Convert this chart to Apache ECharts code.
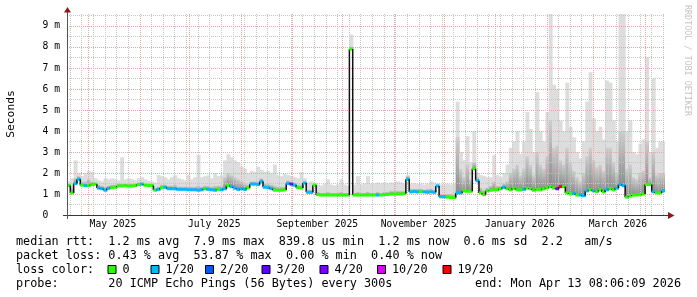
<!DOCTYPE html>
<html><head><meta charset="utf-8">
<script src="https://cdn.jsdelivr.net/npm/echarts@6/dist/echarts.min.js"></script>
<style>html,body{margin:0;padding:0;background:#fff}#c{width:697px;height:297px}</style>
</head><body><div id="c"></div>
<script>
// ---------- DATA ----------
const startTime = Date.UTC(2025, 3, 18, 8, 6, 9);
const endTime = Date.UTC(2026, 3, 13, 8, 6, 9);
const bucketDays = 2;

// median rtt per 2-day bucket (ms)
const medianRtt = [
  1.40,1.05,1.50,1.70,1.42,1.40,1.40,1.45,1.47,1.28,
  1.25,1.18,1.27,1.30,1.32,1.38,1.38,1.40,1.38,1.38,
  1.40,1.45,1.47,1.42,1.40,1.40,1.18,1.22,1.30,1.32,
  1.25,1.25,1.25,1.22,1.22,1.22,1.20,1.20,1.20,1.18,
  1.20,1.25,1.22,1.20,1.18,1.22,1.20,1.25,1.40,1.35,
  1.28,1.22,1.25,1.22,1.30,1.47,1.47,1.45,1.60,1.32,
  1.30,1.25,1.18,1.18,1.18,1.20,1.50,1.47,1.42,1.30,
  1.28,1.52,1.08,1.08,1.42,0.97,0.95,0.95,0.95,0.95,
  0.95,0.95,0.95,0.95,0.95,7.90,0.95,0.95,0.95,0.95,
  0.95,0.95,0.95,0.95,0.95,0.97,0.98,1.00,1.00,1.00,
  1.00,1.02,1.70,1.10,1.12,1.10,1.12,1.10,1.08,1.10,
  1.08,1.38,0.87,0.87,0.85,0.83,0.83,1.05,1.05,1.15,
  1.13,1.13,2.20,1.63,1.05,0.97,1.15,1.18,1.20,1.20,
  1.25,1.32,1.25,1.20,1.28,1.20,1.20,1.22,1.28,1.25,
  1.18,1.22,1.20,1.25,1.30,1.35,1.28,1.25,1.35,1.35,
  1.05,1.00,1.02,0.95,0.95,0.92,1.15,1.20,1.15,1.12,
  1.20,1.10,1.20,1.25,1.20,1.28,1.45,1.40,0.85,0.90,
  0.95,0.95,0.97,1.00,1.45,1.45,1.10,1.05,1.05,1.15
];
// loss class per bucket: 0=0,1=1/20,2=2/20,3=3/20,4=4/20,5=10/20,6=19/20
const lossCode = [
  0,0,1,1,0,1,0,0,0,1,
  1,1,1,0,0,0,0,0,0,0,
  0,0,1,0,0,0,0,1,0,1,
  1,1,1,1,1,1,1,1,1,1,
  1,0,1,1,1,0,1,1,0,1,
  1,1,1,1,0,1,1,1,1,1,
  1,1,0,0,0,0,1,4,1,0,
  0,1,1,1,0,0,0,0,0,0,
  0,0,0,0,0,0,0,0,0,0,
  0,0,0,1,0,0,0,0,0,0,
  0,0,1,1,1,1,0,1,1,1,
  1,1,1,1,0,0,0,1,1,0,
  0,0,0,1,0,0,0,0,0,0,
  0,1,0,0,0,0,0,1,0,0,
  0,0,0,0,0,0,0,4,6,0,
  0,0,1,0,1,1,1,0,1,0,
  0,0,1,0,0,1,1,1,0,0,
  0,0,0,0,0,0,1,0,0,1
];
// top of the denser (inner) smoke per bucket (ms)
const smokeMid = [
  1.50,1.30,1.75,1.85,1.60,1.60,1.70,1.60,1.55,1.45,
  1.40,1.35,1.40,1.45,1.45,1.50,1.50,1.50,1.50,1.50,
  1.50,1.55,1.55,1.50,1.50,1.50,1.30,1.35,1.45,1.45,
  1.40,1.40,1.45,1.35,1.35,1.35,1.35,1.35,1.35,1.40,
  1.35,1.40,1.40,1.35,1.40,1.40,1.40,1.80,2.00,1.90,
  1.80,1.70,1.60,1.50,1.45,1.60,1.60,1.60,1.75,1.50,
  1.50,1.45,1.40,1.35,1.35,1.35,1.65,1.60,1.55,1.45,
  1.45,1.60,1.20,1.20,1.50,1.10,1.05,1.05,1.10,1.05,
  1.05,1.05,1.10,1.05,1.05,8.00,1.05,1.10,1.05,1.05,
  1.10,1.05,1.05,1.10,1.05,1.10,1.10,1.15,1.15,1.15,
  1.15,1.15,1.85,1.25,1.25,1.25,1.25,1.20,1.25,1.25,
  1.20,1.45,1.00,1.00,1.00,1.00,1.00,3.70,2.20,1.80,
  2.40,1.70,2.50,1.80,1.30,1.20,1.30,1.40,1.60,1.40,
  1.40,1.50,1.60,2.00,2.20,2.40,1.90,2.20,2.80,2.40,
  1.90,3.00,2.40,2.20,2.80,4.50,3.20,3.30,2.60,2.40,
  3.20,2.50,2.10,1.80,1.60,2.00,2.80,3.20,2.60,2.30,
  2.40,2.10,3.20,3.20,2.50,2.00,4.00,4.00,2.20,2.40,
  1.80,1.70,2.00,2.10,3.50,1.80,3.00,1.90,2.00,2.00
];
// top of the whole smoke (max ping) per bucket (ms)
const smokeHigh = [
  1.60,1.75,2.60,2.00,1.85,2.00,2.10,2.05,1.75,1.65,
  1.60,1.75,1.70,1.75,1.70,1.65,2.75,1.70,1.75,1.70,
  1.65,1.75,1.80,1.70,1.62,1.60,1.55,1.90,1.85,1.80,
  1.70,1.80,1.90,1.75,1.70,1.65,1.90,1.70,1.80,2.86,
  1.80,1.85,1.90,1.75,2.00,1.85,1.90,2.60,2.90,2.75,
  2.60,2.50,2.30,2.20,2.00,2.10,2.05,2.30,2.15,2.05,
  2.10,2.00,2.40,1.90,1.85,1.95,1.90,1.85,1.80,1.75,
  2.05,1.75,1.55,1.60,1.50,1.45,1.40,1.50,1.70,1.45,
  1.40,1.45,1.70,1.45,1.40,8.60,1.45,1.85,1.45,1.50,
  1.85,1.50,1.50,1.55,1.50,1.55,1.50,1.55,1.50,1.60,
  1.55,1.50,1.90,1.50,1.50,1.48,1.50,1.45,1.50,1.60,
  1.55,1.50,1.45,1.45,1.48,1.45,1.50,5.40,3.00,2.60,
  3.75,2.50,4.00,2.00,1.90,1.85,1.80,1.80,2.85,1.90,
  1.80,2.00,2.40,3.20,3.50,4.00,2.90,3.50,4.90,4.10,
  3.00,5.85,4.00,3.50,4.90,9.60,6.20,6.00,4.50,4.00,
  6.30,4.20,3.70,3.00,2.70,3.50,5.40,6.80,4.60,4.00,
  4.20,3.60,6.40,6.30,4.50,3.50,9.60,9.60,4.00,4.50,
  3.00,2.90,3.40,3.60,7.50,3.00,6.50,3.20,3.50,3.50
];

const yTickValues = [0,1,2,3,4,5,6,7,8,9];
const xLabelDates = [[2025,4,16],[2025,6,16],[2025,8,16],[2025,10,16],[2026,0,16],[2026,2,16]];
const xLabelTexts = ['May 2025','July 2025','September 2025','November 2025','January 2026','March 2026'];

const lossLabels = ['0','1/20','2/20','3/20','4/20','10/20','19/20'];
const lossColors = ['#26ff00','#00b8ff','#0059ff','#5e00ff','#7e00ff','#dd00ff','#ff0000'];

const statsLines = [
  'median rtt:  1.2 ms avg  7.9 ms max  839.8 us min  1.2 ms now  0.6 ms sd  2.2   am/s',
  'packet loss: 0.43 % avg  53.87 % max  0.00 % min  0.40 % now',
  'loss color:',
  'probe:       20 ICMP Echo Pings (56 Bytes) every 300s'
];
const endText = 'end: Mon Apr 13 08:06:09 2026';
const yAxisTitle = 'Seconds';
const watermark = 'RRDTOOL / TOBI OETIKER';

// ---------- LAYOUT ----------
const DAY = 864e5;
const G = {left: 67, top: 14, right: 32, bottom: 82};
const yMax = 9.57;
const mono = 'DejaVu Sans Mono';
const legendBoxX = [107.5, 150.5, 205, 261.5, 319.5, 377, 442.5];

const xLabelTimes = xLabelDates.map(d => Date.UTC(d[0], d[1], d[2]));
const xLabelMap = {};
xLabelTimes.forEach((t, i) => { xLabelMap[t] = xLabelTexts[i]; });

const n = medianRtt.length;
const smokeData = medianRtt.map((m, i) => [
  startTime + i * bucketDays * DAY,
  Math.min(startTime + (i + 1) * bucketDays * DAY, endTime),
  m, smokeMid[i], smokeHigh[i]
]);
const medianData = medianRtt.map((m, i) => [
  startTime + i * bucketDays * DAY,
  Math.min(startTime + (i + 1) * bucketDays * DAY, endTime),
  m, i + 1 < n ? medianRtt[i + 1] : m, lossCode[i]
]);

// grid lines (0 minor vertical, 1 major vertical, 2 minor horizontal, 3 major horizontal)
const gridItems = [];
for (let t = Date.UTC(2025, 3, 20); t < endTime; t += 7 * DAY) gridItems.push([t, 0, 0]);
for (let k = 1; k * 0.5 < yMax; k++) if (k % 2) gridItems.push([startTime, k * 0.5, 2]);
for (let k = 0; k < 12; k++) gridItems.push([Date.UTC(2025, 4 + k, 1), 0, 1]);
for (let k = 1; k <= 9; k++) gridItems.push([startTime, k, 3]);

function renderGrid(params, api) {
  const cs = params.coordSys;
  const kind = api.value(2);
  let shape;
  if (kind === 0 || kind === 1) {
    const x = Math.round(api.coord([api.value(0), 0])[0]) + 0.5;
    shape = {x1: x, y1: cs.y, x2: x, y2: cs.y + cs.height};
  } else {
    const y = Math.round(api.coord([startTime, api.value(1)])[1]) + 0.5;
    shape = {x1: cs.x, y1: y, x2: cs.x + cs.width, y2: y};
  }
  return {type: 'line', shape, silent: true,
    style: {stroke: kind % 2 ? '#f0a4a4' : '#c6c6c6', lineWidth: 1, lineDash: [1, 1]}};
}

function renderSmoke(params, api) {
  const t0 = api.value(0), t1 = api.value(1), m = api.value(2), mid = api.value(3), hi = api.value(4);
  const a = api.coord([t0, m]);
  const b = api.coord([t1, hi]);
  const c = api.coord([t1, mid]);
  const w = b[0] - a[0] + 0.6;
  return {type: 'group', children: [
    {type: 'rect', shape: {x: a[0], y: b[1], width: w, height: a[1] - b[1]}, style: {fill: '#dddddd'}},
    {type: 'rect', shape: {x: a[0], y: c[1], width: w, height: a[1] - c[1]},
      style: {fill: {type: 'linear', x: 0, y: 0, x2: 0, y2: 1,
        colorStops: [{offset: 0, color: '#cdcdcd'}, {offset: 1, color: '#8c8c8c'}]}}}
  ]};
}

function renderMedian(params, api) {
  const t0 = api.value(0), t1 = api.value(1), m = api.value(2), mn = api.value(3), code = api.value(4);
  const a = api.coord([t0, m]);
  const b = api.coord([t1, m]);
  const c = api.coord([t1, mn]);
  const children = [];
  children.push({type: 'rect', shape: {x: a[0], y: a[1] - 1.5, width: b[0] - a[0] + 0.4, height: 3},
    style: {fill: lossColors[code]}});
  if (params.dataIndex < n - 1 && Math.abs(c[1] - b[1]) > 0.5) {
    children.push({type: 'line', shape: {x1: b[0], y1: b[1], x2: b[0], y2: c[1]},
      style: {stroke: '#111', lineWidth: 1.5}});
  }
  return {type: 'group', children};
}

// decorations
const axisColor = '#3a3a3a';
const arrowColor = '#8b1a1a';
const xAxisY = 297 - G.bottom;
const graphics = [
  {type: 'line', shape: {x1: 63, y1: xAxisY + 0.5, x2: 669, y2: xAxisY + 0.5}, style: {stroke: axisColor, lineWidth: 1}, z: 20},
  {type: 'line', shape: {x1: G.left + 0.5, y1: 219, x2: G.left + 0.5, y2: 12}, style: {stroke: '#555', lineWidth: 1}, z: 20},
  {type: 'polygon', shape: {points: [[G.left - 3, 12.5], [G.left + 4, 12.5], [G.left + 0.5, 7]]}, style: {fill: arrowColor}, z: 21},
  {type: 'polygon', shape: {points: [[668, xAxisY - 3], [668, xAxisY + 4], [674.5, xAxisY + 0.5]]}, style: {fill: arrowColor}, z: 21},
  {type: 'text', x: 11, y: 114, rotation: Math.PI / 2,
    style: {text: yAxisTitle, font: '11.3px ' + mono, fill: '#000', align: 'center', verticalAlign: 'middle'}},
  {type: 'text', x: 687, y: 5, rotation: -Math.PI / 2,
    style: {text: watermark, font: '8.4px ' + mono, fill: '#c4c4c4', align: 'left', verticalAlign: 'middle'}}
];
const lineY = [241.5, 255.5, 269.5, 283.5];
statsLines.forEach((s, i) => {
  graphics.push({type: 'text', x: 16, y: lineY[i],
    style: {text: s, font: '11.8px ' + mono, fill: '#000', align: 'left', verticalAlign: 'middle'}});
});
graphics.push({type: 'text', x: 681, y: lineY[3],
  style: {text: endText, font: '11.8px ' + mono, fill: '#000', align: 'right', verticalAlign: 'middle'}});
lossLabels.forEach((lab, i) => {
  const x = legendBoxX[i];
  graphics.push({type: 'rect', shape: {x: x + 0.5, y: 265.5, width: 8, height: 8},
    style: {fill: lossColors[i], stroke: '#000', lineWidth: 1}});
  graphics.push({type: 'text', x: x + 15, y: lineY[2],
    style: {text: lab, font: '11.8px ' + mono, fill: '#000', align: 'left', verticalAlign: 'middle'}});
});

const chart = echarts.init(document.getElementById('c'), null, {renderer: 'canvas'});
chart.setOption({
  animation: false,
  backgroundColor: '#ffffff',
  grid: {left: G.left, top: G.top, right: G.right, bottom: G.bottom},
  xAxis: {
    type: 'value', min: startTime, max: endTime,
    axisLine: {show: false}, axisTick: {show: false}, splitLine: {show: false},
    axisLabel: {
      customValues: xLabelTimes,
      formatter: v => xLabelMap[v] || '',
      fontFamily: mono, fontSize: 9.7, color: '#000', margin: 4
    }
  },
  yAxis: {
    type: 'value', min: 0, max: yMax,
    axisLine: {show: false}, axisTick: {show: false}, splitLine: {show: false},
    axisLabel: {
      customValues: yTickValues,
      formatter: v => v === 0 ? '0  ' : v + ' m',
      fontFamily: mono, fontSize: 9.7, color: '#000', margin: 7
    }
  },
  series: [
    {type: 'custom', name: 'smoke', renderItem: renderSmoke, data: smokeData, encode: {x: [0, 1], y: [2, 3, 4]}, z: 2, silent: true, clip: true},
    {type: 'custom', name: 'grid', renderItem: renderGrid, data: gridItems, encode: {x: 0, y: 1}, z: 4, silent: true},
    {type: 'custom', name: 'median', renderItem: renderMedian, data: medianData, encode: {x: [0, 1], y: [2, 3]}, z: 6, silent: true, clip: true}
  ],
  graphic: {elements: graphics}
});
</script>
</body></html>
